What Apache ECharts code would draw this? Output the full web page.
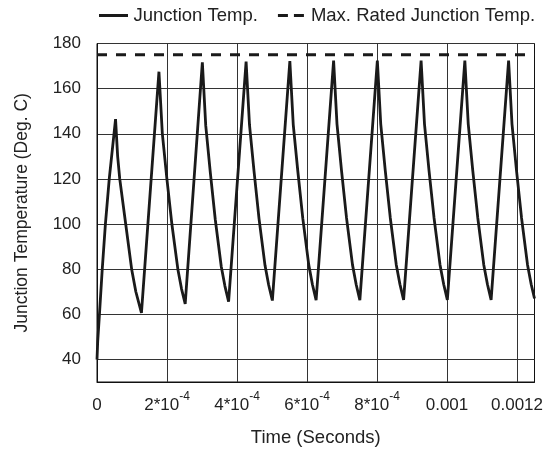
<!DOCTYPE html>
<html>
<head>
<meta charset="utf-8">
<script src="https://cdn.jsdelivr.net/npm/echarts@6/dist/echarts.min.js"></script>
<style>
html,body{margin:0;padding:0;background:#fff;}
#chart{width:546px;height:453px;}
</style>
</head>
<body>
<div id="chart"></div>
<script>
// Time in seconds
const timeSec = [
  0, 0.02e-4, 0.07e-4, 0.15e-4, 0.24e-4, 0.35e-4, 0.53e-4,
  0.59e-4, 0.65e-4, 0.82e-4, 0.99e-4, 1.11e-4, 1.27e-4,
  1.77e-4, 1.866e-4, 1.997e-4, 2.139e-4, 2.31e-4, 2.415e-4, 2.52e-4,
  3.01e-4, 3.107e-4, 3.237e-4, 3.379e-4, 3.55e-4, 3.655e-4, 3.76e-4,
  4.26e-4, 4.357e-4, 4.487e-4, 4.629e-4, 4.80e-4, 4.905e-4, 5.01e-4,
  5.51e-4, 5.607e-4, 5.737e-4, 5.879e-4, 6.05e-4, 6.155e-4, 6.26e-4,
  6.76e-4, 6.857e-4, 6.987e-4, 7.129e-4, 7.30e-4, 7.405e-4, 7.51e-4,
  8.01e-4, 8.107e-4, 8.237e-4, 8.379e-4, 8.55e-4, 8.655e-4, 8.76e-4,
  9.26e-4, 9.357e-4, 9.487e-4, 9.629e-4, 9.80e-4, 9.905e-4, 10.01e-4,
  10.51e-4, 10.607e-4, 10.737e-4, 10.879e-4, 11.05e-4, 11.155e-4, 11.26e-4,
  11.76e-4, 11.857e-4, 11.987e-4, 12.129e-4, 12.30e-4, 12.405e-4, 12.5e-4
];
// Junction temperature (Deg. C)
const junctionTemp = [
  40, 48, 60, 80, 100, 120, 146.5,
  130, 120, 100, 80, 70, 60.6,
  167.5, 140.2, 120, 100, 80, 71.3, 64.6,
  171.7, 143.6, 122.9, 102.0, 81.2, 72.5, 65.6,
  172.0, 143.9, 123.3, 102.4, 81.7, 73.0, 66.1,
  172.2, 144.1, 123.5, 102.6, 81.9, 73.2, 66.3,
  172.4, 144.3, 123.6, 102.7, 81.9, 73.2, 66.3,
  172.4, 144.3, 123.6, 102.8, 82.0, 73.3, 66.4,
  172.4, 144.3, 123.6, 102.8, 82.0, 73.3, 66.4,
  172.4, 144.3, 123.6, 102.8, 82.0, 73.3, 66.4,
  172.4, 144.3, 123.6, 102.8, 82.0, 73.3, 67.0
];
const maxRatedTemp = 175;
const xRange = [0, 0.00125];
const yRange = [30, 180];
const xTickValues = [0, 0.0002, 0.0004, 0.0006, 0.0008, 0.001, 0.0012];
const yTickValues = [40, 60, 80, 100, 120, 140, 160, 180];
const seriesNames = ['Junction Temp.', 'Max. Rated Junction Temp.'];

const FONT = 'Liberation Sans';
const TXT = '#222';

const chart = echarts.init(document.getElementById('chart'), null, {renderer: 'canvas'});
chart.setOption({
  animation: false,
  backgroundColor: '#fff',
  textStyle: {fontFamily: FONT},
  legend: {
    left: 94, top: 1,
    itemWidth: 30, itemHeight: 3, itemGap: 20,
    textStyle: {fontFamily: FONT, fontSize: 18.5, color: TXT},
    data: [
      {name: seriesNames[0], icon: 'path://M0,0H29V3H0Z', itemStyle: {color: '#1a1a1a'}},
      {name: seriesNames[1], icon: 'path://M0,0H10V3H0ZM16,0H26V3H16Z', itemStyle: {color: '#1a1a1a'}}
    ]
  },
  grid: {
    left: 97, right: 9, top: 43.5, bottom: 71,
    show: true, borderColor: '#111', borderWidth: 1, backgroundColor: 'transparent'
  },
  xAxis: {
    type: 'value', min: xRange[0], max: xRange[1],
    name: 'Time (Seconds)', nameLocation: 'middle', nameGap: 46,
    nameTextStyle: {fontFamily: FONT, fontSize: 18.5, color: TXT},
    axisLine: {show: true, lineStyle: {color: '#111', width: 1}},
    axisTick: {show: false, customValues: xTickValues},
    splitLine: {show: true, lineStyle: {color: '#333', width: 1}},
    axisLabel: {
      customValues: xTickValues,
      fontFamily: FONT, fontSize: 17, color: TXT, lineHeight: 28, margin: 9,
      formatter: function (v) {
        if (v === 0) return '0';
        if (v < 0.00095) return Math.round(v * 1e4) + '*10{sup|-4}';
        return String(v);
      },
      rich: {sup: {fontFamily: FONT, fontSize: 12, color: TXT, lineHeight: 12, verticalAlign: 'top'}}
    }
  },
  yAxis: {
    type: 'value', min: yRange[0], max: yRange[1],
    name: 'Junction Temperature (Deg. C)', nameLocation: 'middle', nameGap: 66,
    nameTextStyle: {fontFamily: FONT, fontSize: 17.5, color: TXT},
    axisLine: {show: true, lineStyle: {color: '#111', width: 1}},
    axisTick: {show: false, customValues: yTickValues},
    splitLine: {show: true, lineStyle: {color: '#333', width: 1}},
    axisLabel: {customValues: yTickValues, fontFamily: FONT, fontSize: 17, color: TXT, margin: 16}
  },
  series: [
    {
      name: seriesNames[0], type: 'line', symbol: 'none',
      lineStyle: {color: '#1a1a1a', width: 2.8},
      itemStyle: {color: '#1a1a1a'},
      data: timeSec.map((t, i) => [t, junctionTemp[i]])
    },
    {
      name: seriesNames[1], type: 'line', symbol: 'none',
      lineStyle: {color: '#1a1a1a', width: 3, type: [10, 9]},
      itemStyle: {color: '#1a1a1a'},
      data: [[xRange[0], maxRatedTemp], [xRange[1], maxRatedTemp]]
    }
  ]
});
</script>
</body>
</html>
